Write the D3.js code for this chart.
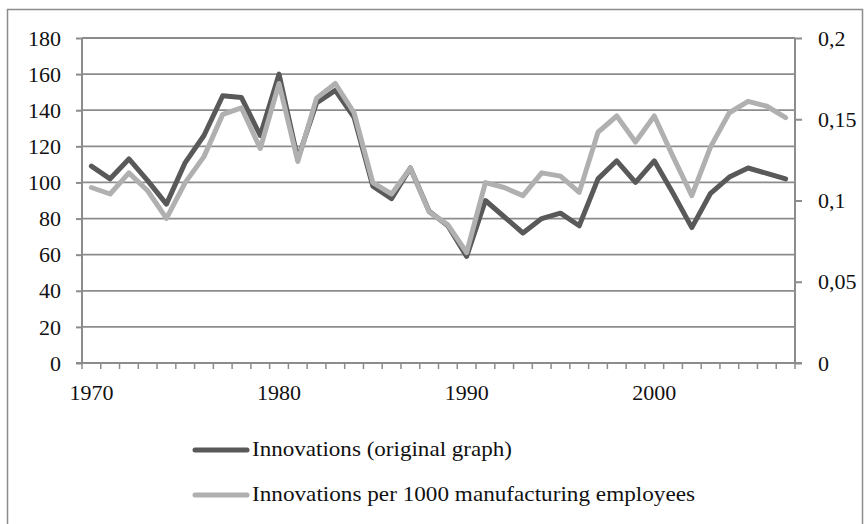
<!DOCTYPE html>
<html>
<head>
<meta charset="utf-8">
<script src="https://cdn.jsdelivr.net/npm/d3@7"></script>
<style>
  html, body { margin: 0; padding: 0; background: #fff; }
  svg { display: block; }
  text { font-family: "Liberation Serif", "Times New Roman", serif; fill: #111; }
</style>
</head>
<body>
<svg id="chart" width="866" height="524"></svg>
<script>
const years = d3.range(1970, 2008);
const innovations = [109, 102, 113, 101, 88, 111, 126, 148, 147, 126, 160,
  113, 144, 151, 136, 98, 91, 108, 84, 76, 59,
  90, 81, 72, 80, 83, 76, 102, 112, 100, 112,
  94, 75, 94, 103, 108, 105, 102];
const innovationsPer1000 = [0.108, 0.104, 0.117, 0.106, 0.089, 0.111, 0.127, 0.153, 0.157, 0.132, 0.172,
  0.124, 0.163, 0.172, 0.154, 0.111, 0.104, 0.120, 0.093, 0.085, 0.068,
  0.111, 0.108, 0.103, 0.117, 0.115, 0.105, 0.142, 0.152, 0.136, 0.152,
  0.127, 0.103, 0.133, 0.154, 0.161, 0.158, 0.151];
const leftTicks = [0, 20, 40, 60, 80, 100, 120, 140, 160, 180];
const rightTicks = [0, 0.05, 0.1, 0.15, 0.2];
const rightTickLabels = ["0", "0,05", "0,1", "0,15", "0,2"];
const yearLabels = [1970, 1980, 1990, 2000];
const seriesNames = ["Innovations (original graph)", "Innovations per 1000 manufacturing employees"];

const svg = d3.select("#chart");
const L = 82, R = 795, T = 38, B = 363;
const darkColor = "#595959", lightColor = "#b0b0b0", gridColor = "#8c8c8c";

// outer border
svg.append("rect").attr("x", 7.5).attr("y", 9.5).attr("width", 855).attr("height", 540)
  .attr("fill", "none").attr("stroke", gridColor).attr("stroke-width", 1.5);

const x = d3.scaleBand().domain(years).range([L, R]).paddingInner(0).paddingOuter(0);
const cx = d => x(d) + x.bandwidth() / 2;
const yL = d3.scaleLinear().domain([0, 180]).range([B, T]);
const yR = d3.scaleLinear().domain([0, 0.2]).range([B, T]);

// gridlines + left axis
const gLeft = svg.append("g").attr("transform", `translate(${L},0)`)
  .call(d3.axisLeft(yL).tickValues(leftTicks).tickSize(6).tickFormat(""));
gLeft.select(".domain").remove();
gLeft.selectAll(".tick line").attr("stroke", gridColor).attr("stroke-width", 2);
svg.append("g").selectAll("line.grid").data(leftTicks).join("line")
  .attr("x1", L).attr("x2", R).attr("y1", d => yL(d)).attr("y2", d => yL(d))
  .attr("stroke", gridColor).attr("stroke-width", 1.8);
svg.append("g").selectAll("text.yl").data(leftTicks).join("text")
  .attr("x", 61).attr("y", d => yL(d)).attr("dy", "0.35em")
  .attr("text-anchor", "end").attr("font-size", 22).text(d => d);

// left axis line
svg.append("line").attr("x1", L).attr("x2", L).attr("y1", T).attr("y2", B)
  .attr("stroke", gridColor).attr("stroke-width", 2);

// right axis
const gRight = svg.append("g").attr("transform", `translate(${R},0)`)
  .call(d3.axisRight(yR).tickValues(rightTicks).tickSize(7).tickFormat(""));
gRight.select(".domain").remove();
gRight.selectAll(".tick line").attr("stroke", gridColor).attr("stroke-width", 2);
svg.append("line").attr("x1", R).attr("x2", R).attr("y1", T).attr("y2", B)
  .attr("stroke", gridColor).attr("stroke-width", 2);
svg.append("g").selectAll("text.yr").data(rightTicks).join("text")
  .attr("x", 818).attr("y", d => yR(d)).attr("dy", "0.35em")
  .attr("text-anchor", "start").attr("font-size", 22)
  .text((d, i) => rightTickLabels[i]);

// bottom axis line and boundary ticks
svg.append("line").attr("x1", L - 6).attr("x2", R + 7).attr("y1", B).attr("y2", B)
  .attr("stroke", gridColor).attr("stroke-width", 2);
const bounds = years.map(d => x(d)).concat([x(years[years.length - 1]) + x.bandwidth()]);
svg.append("g").selectAll("line.bt").data(bounds).join("line")
  .attr("x1", d => d).attr("x2", d => d).attr("y1", B).attr("y2", B + 6)
  .attr("stroke", gridColor).attr("stroke-width", 1.5);
svg.append("g").selectAll("text.xl").data(yearLabels).join("text")
  .attr("x", d => cx(d)).attr("y", 400)
  .attr("text-anchor", "middle").attr("font-size", 22).text(d => d);

// series
const lineL = d3.line().x((d, i) => cx(years[i])).y(d => yL(d));
const lineR = d3.line().x((d, i) => cx(years[i])).y(d => yR(d));
svg.append("path").datum(innovations).attr("d", lineL)
  .attr("fill", "none").attr("stroke", darkColor).attr("stroke-width", 5)
  .attr("stroke-linejoin", "round").attr("stroke-linecap", "round");
svg.append("path").datum(innovationsPer1000).attr("d", lineR)
  .attr("fill", "none").attr("stroke", lightColor).attr("stroke-width", 5)
  .attr("stroke-linejoin", "round").attr("stroke-linecap", "round");

// legend
const legend = svg.append("g");
const legendColors = [darkColor, lightColor];
const legendY = [450, 495];
const legendLen = [260, 443];
seriesNames.forEach((name, i) => {
  legend.append("line").attr("x1", 195).attr("x2", 247)
    .attr("y1", legendY[i]).attr("y2", legendY[i])
    .attr("stroke", legendColors[i]).attr("stroke-width", 5).attr("stroke-linecap", "round");
  legend.append("text").attr("x", 252).attr("y", legendY[i] + 6)
    .attr("font-size", 22).attr("textLength", legendLen[i]).attr("lengthAdjust", "spacingAndGlyphs")
    .text(name);
});
</script>
</body>
</html>
